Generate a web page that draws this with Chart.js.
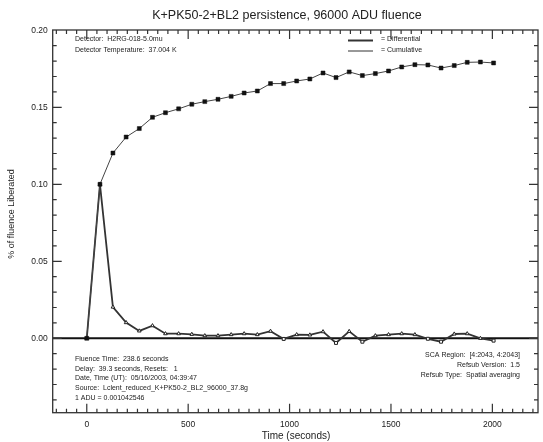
<!DOCTYPE html>
<html>
<head>
<meta charset="utf-8">
<script src="https://cdn.jsdelivr.net/npm/chart.js@4/dist/chart.umd.min.js"></script>
<style>
  html, body { margin: 0; padding: 0; background: #fff; }
  #wrap { width: 543px; height: 442px; }
</style>
</head>
<body>
<div id="wrap"><canvas id="c" width="543" height="442"></canvas></div>
<script>
// Sample times after the reset (seconds)
const times = [0, 65, 129, 194, 259, 324, 388, 453, 518, 582, 647, 712, 776, 841, 906, 971,
               1035, 1100, 1165, 1229, 1294, 1359, 1423, 1488, 1553, 1618, 1682, 1747, 1812, 1876, 1941, 2006];

// Charge released in each interval, % of fluence
const differential = [0, 0.100, 0.0203, 0.0102, 0.0048, 0.0082, 0.0030, 0.0030, 0.0026, 0.0017, 0.0017, 0.0024,
                      0.0030, 0.0024, 0.0046, -0.0004, 0.0024, 0.0022, 0.0043, -0.0030, 0.0045, -0.0022, 0.0017, 0.0024,
                      0.0030, 0.0024, -0.0003, -0.0022, 0.0028, 0.0030, 0.0000, -0.0015];

// Running total, % of fluence
const cumulative = [0, 0.100, 0.1203, 0.1307, 0.1362, 0.1435, 0.1465, 0.1490, 0.1520, 0.1537, 0.1552, 0.1571,
                    0.1593, 0.1606, 0.1654, 0.1654, 0.1671, 0.1684, 0.1723, 0.1693, 0.1730, 0.1706, 0.1719, 0.1736,
                    0.1762, 0.1777, 0.1775, 0.1755, 0.1771, 0.1792, 0.1794, 0.1788];

const xTickValues = [0, 500, 1000, 1500, 2000];
const yTickValues = [0, 0.05, 0.10, 0.15, 0.20];

const titleText = 'K+PK50-2+BL2 persistence, 96000 ADU fluence';
const xTitle = 'Time (seconds)';
const yTitle = '% of fluence Liberated';
const infoTopLeft = ['Detector:  H2RG-018-5.0mu', 'Detector Temperature:  37.004 K'];
const legendLabels = ['= Differential', '= Cumulative'];
const infoBottomLeft = [
  'Fluence Time:  238.6 seconds',
  'Delay:  39.3 seconds, Resets:   1',
  'Date, Time (UT):  05/16/2003, 04:39:47',
  'Source:  Lclent_reduced_K+PK50-2_BL2_96000_37.8g',
  '1 ADU = 0.001042546'
];
const infoBottomRight = [
  'SCA Region:  [4:2043, 4:2043]',
  'Refsub Version:  1.5',
  'Refsub Type:  Spatial averaging'
];

const FONT = '"Liberation Sans", Arial, sans-serif';
const INK = '#222';

// Frame, inward ticks, zero line and text annotations
const decor = {
  id: 'decor',
  beforeDatasetsDraw(chart) {
    const { ctx, chartArea: a, scales: { y } } = chart;
    ctx.save();
    // zero line
    const y0 = y.getPixelForValue(0);
    ctx.strokeStyle = '#111';
    ctx.lineWidth = 2;
    ctx.beginPath();
    ctx.moveTo(a.left, y0);
    ctx.lineTo(a.right, y0);
    ctx.stroke();
    ctx.restore();
  },
  afterDraw(chart) {
    const { ctx, chartArea: a, scales: { x, y } } = chart;
    ctx.save();
    ctx.strokeStyle = '#333';
    ctx.lineWidth = 1.3;
    ctx.strokeRect(a.left, a.top, a.right - a.left, a.bottom - a.top);

    ctx.lineWidth = 1.2;
    // x ticks every 50 s, major every 500 s
    for (let t = -150; t <= x.max; t += 50) {
      const px = x.getPixelForValue(t);
      if (px <= a.left || px >= a.right) continue;
      const len = (t % 500 === 0) ? 9 : 4;
      ctx.beginPath();
      ctx.moveTo(px, a.bottom); ctx.lineTo(px, a.bottom - len);
      ctx.moveTo(px, a.top); ctx.lineTo(px, a.top + len);
      ctx.stroke();
    }
    // y ticks every 0.01, major every 0.05
    for (let i = -4; i <= 20; i++) {
      const v = i / 100;
      const py = y.getPixelForValue(v);
      if (py <= a.top + 0.5 || py >= a.bottom) continue;
      const len = (i % 5 === 0) ? 9 : 4;
      ctx.beginPath();
      ctx.moveTo(a.left, py); ctx.lineTo(a.left + len, py);
      ctx.moveTo(a.right, py); ctx.lineTo(a.right - len, py);
      ctx.stroke();
    }

    ctx.fillStyle = INK;
    // title
    ctx.font = '12.5px ' + FONT;
    ctx.textAlign = 'center';
    ctx.textBaseline = 'middle';
    ctx.fillText(titleText, 287, 16);
    // x title
    ctx.font = '10px ' + FONT;
    ctx.fillText(xTitle, 296, 436);
    // y title
    ctx.save();
    ctx.translate(12, 214);
    ctx.rotate(-Math.PI / 2);
    ctx.font = '9px ' + FONT;
    ctx.fillText(yTitle, 0, 0);
    ctx.restore();

    // annotations
    ctx.font = '7px ' + FONT;
    ctx.textAlign = 'left';
    infoTopLeft.forEach((s, i) => ctx.fillText(s, 75, 39.5 + i * 10.5));
    infoBottomLeft.forEach((s, i) => ctx.fillText(s, 75, 359.3 + i * 9.6));
    ctx.textAlign = 'right';
    infoBottomRight.forEach((s, i) => ctx.fillText(s, 520, 355 + i * 10));

    // legend
    ctx.textAlign = 'left';
    legendLabels.forEach((s, i) => ctx.fillText(s, 381, 39.5 + i * 10.5));
    ctx.strokeStyle = '#333';
    ctx.lineWidth = 2;
    ctx.beginPath(); ctx.moveTo(348, 40.5); ctx.lineTo(373, 40.5); ctx.stroke();
    ctx.lineWidth = 1;
    ctx.beginPath(); ctx.moveTo(348, 51); ctx.lineTo(373, 51); ctx.stroke();
    ctx.restore();
  }
};

new Chart(document.getElementById('c'), {
  type: 'line',
  data: {
    datasets: [
      {
        label: 'Cumulative',
        data: times.map((t, i) => ({ x: t, y: cumulative[i] })),
        borderColor: '#444',
        borderWidth: 1,
        pointStyle: 'rect',
        pointRadius: 2.8,
        pointBackgroundColor: '#111',
        pointBorderColor: '#111',
        pointBorderWidth: 0.5,
        order: 1
      },
      {
        label: 'Differential',
        data: times.map((t, i) => ({ x: t, y: differential[i] })),
        borderColor: '#333',
        borderWidth: 1.8,
        pointStyle: ctx => (ctx.raw && ctx.raw.y < 0) ? 'rect' : 'triangle',
        pointRadius: 2.1,
        pointBackgroundColor: '#fff',
        pointBorderColor: '#222',
        pointBorderWidth: 1,
        order: 2
      }
    ]
  },
  options: {
    responsive: false,
    animation: false,
    events: [],
    layout: { padding: { top: 30, right: 2.3, bottom: 0, left: 0 } },
    plugins: {
      legend: { display: false },
      title: { display: false },
      tooltip: { enabled: false }
    },
    scales: {
      x: {
        type: 'linear',
        min: -168,
        max: 2225,
        border: { display: false },
        grid: { display: false, drawTicks: false },
        afterBuildTicks: s => { s.ticks = xTickValues.map(v => ({ value: v })); },
        afterFit: s => { s.height = 442 - 412.7; },
        ticks: {
          padding: 7,
          maxRotation: 0,
          color: INK,
          font: { family: FONT, size: 8.5 },
          callback: v => String(v)
        }
      },
      y: {
        type: 'linear',
        min: -0.0483,
        max: 0.2002,
        border: { display: false },
        grid: { display: false, drawTicks: false },
        afterBuildTicks: s => { s.ticks = yTickValues.map(v => ({ value: v })); },
        afterFit: s => { s.width = 52.7; },
        ticks: {
          padding: 5,
          color: INK,
          font: { family: FONT, size: 8.5 },
          callback: v => v.toFixed(2)
        }
      }
    }
  },
  plugins: [decor]
});
</script>
</body>
</html>
